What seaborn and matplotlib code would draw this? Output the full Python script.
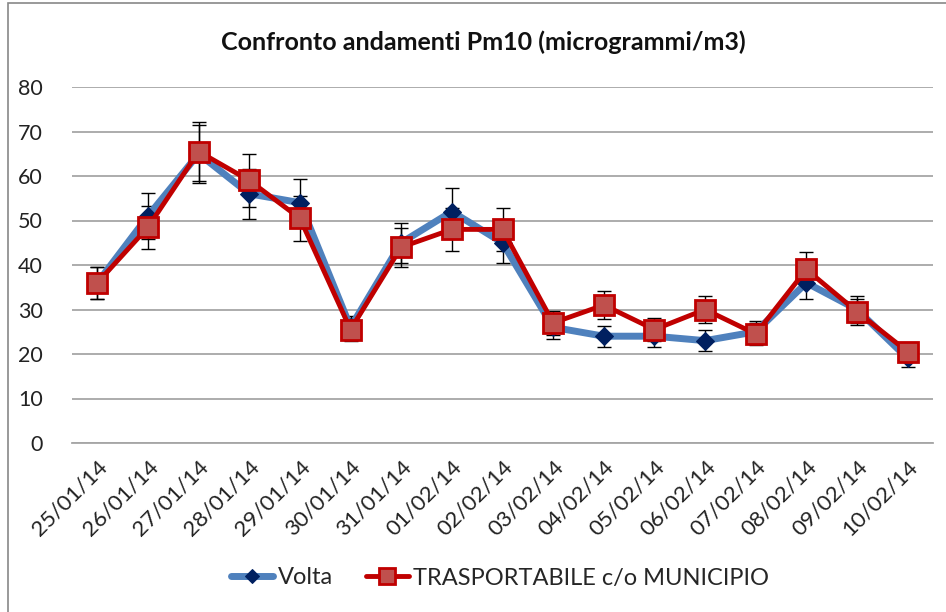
import matplotlib
matplotlib.use("Agg")
import matplotlib.pyplot as plt
import seaborn as sns
import numpy as np
import pandas as pd
from matplotlib.patches import Rectangle

dates = ["25/01/14", "26/01/14", "27/01/14", "28/01/14", "29/01/14", "30/01/14",
         "31/01/14", "01/02/14", "02/02/14", "03/02/14", "04/02/14", "05/02/14",
         "06/02/14", "07/02/14", "08/02/14", "09/02/14", "10/02/14"]
volta = [36, 51, 65, 56, 54, 26, 45, 52, 45, 26, 24, 24, 23, 25, 36, 30, 19]
trasportabile = [36, 48.5, 65.5, 59, 50.5, 25.5, 44, 48, 48, 27, 31, 25.5, 30, 24.5, 39, 29.5, 20.5]
err_pct = 0.10
yticks = [0, 10, 20, 30, 40, 50, 60, 70, 80]

sns.set_theme(style="white")
plt.rcParams['font.family'] = ['Lato', 'DejaVu Sans']

df = pd.DataFrame({
    "x": list(range(len(dates))) * 2,
    "val": volta + trasportabile,
    "serie": ["Volta"] * len(dates) + ["TRASPORTABILE c/o MUNICIPIO"] * len(dates),
})

fig = plt.figure(figsize=(9.46, 6.12), dpi=100)
ax = fig.add_axes([72/946, 1 - 443/612, (933 - 72)/946, (443 - 87)/612])

# outer chart border
fig.patches.append(Rectangle((8/946, -0.05), 1.2, 1 - 3/612 + 0.05, transform=fig.transFigure,
                             fill=False, edgecolor="#888888", linewidth=1.2))

x = np.arange(len(dates))
# error bars (10%)
ax.errorbar(x, volta, yerr=np.array(volta) * err_pct, fmt="none", ecolor="black",
            elinewidth=1, capsize=5, capthick=1, zorder=2)
ax.errorbar(x, trasportabile, yerr=np.array(trasportabile) * err_pct, fmt="none", ecolor="black",
            elinewidth=1, capsize=5, capthick=1, zorder=2)

sns.lineplot(data=df[df.serie == "Volta"], x="x", y="val", ax=ax, color="#4F81BD",
             linewidth=5, marker="D", markersize=9, markerfacecolor="#002060",
             markeredgecolor="#002060", label="Volta", zorder=3)
sns.lineplot(data=df[df.serie != "Volta"], x="x", y="val", ax=ax, color="#C00000",
             linewidth=3.5, marker="s", markersize=14, markerfacecolor="#C0504D",
             markeredgecolor="#C00000", markeredgewidth=2, label="TRASPORTABILE c/o MUNICIPIO",
             zorder=4)

ax.set_xlim(-0.5, len(dates) - 0.5)
ax.set_ylim(0, 80)
ax.set_yticks(yticks)
ax.set_yticklabels([str(v) for v in yticks], fontsize=15.5, color="#222222")
ax.set_xticks(x)
ax.set_xticklabels(dates, rotation=45, ha="right", rotation_mode="anchor", fontsize=16,
                   color="#222222")
ax.tick_params(axis="y", pad=21, length=0)
ax.tick_params(axis="x", pad=10, length=0)
ax.set_xlabel("")
ax.set_ylabel("")
ax.grid(axis="y", color="#A6A6A6", linewidth=1.3)
ax.set_axisbelow(True)
for s in ["top", "right", "left"]:
    ax.spines[s].set_visible(False)
ax.spines["bottom"].set_color("#A6A6A6")
ax.spines["bottom"].set_linewidth(1.3)

fig.text(483/946, 1 - 42/612, "Confronto andamenti Pm10 (microgrammi/m3)", ha="center", va="center",
         fontsize=18, fontweight="bold", color="#111111")

ax.legend(loc="center", bbox_to_anchor=(500/946, 1 - 578/612), bbox_transform=fig.transFigure,
          ncol=2, frameon=False, fontsize=17, handlelength=1.8, columnspacing=1.4,
          handletextpad=0.2, markerscale=0.8)

fig.savefig("out.png", dpi=100)
